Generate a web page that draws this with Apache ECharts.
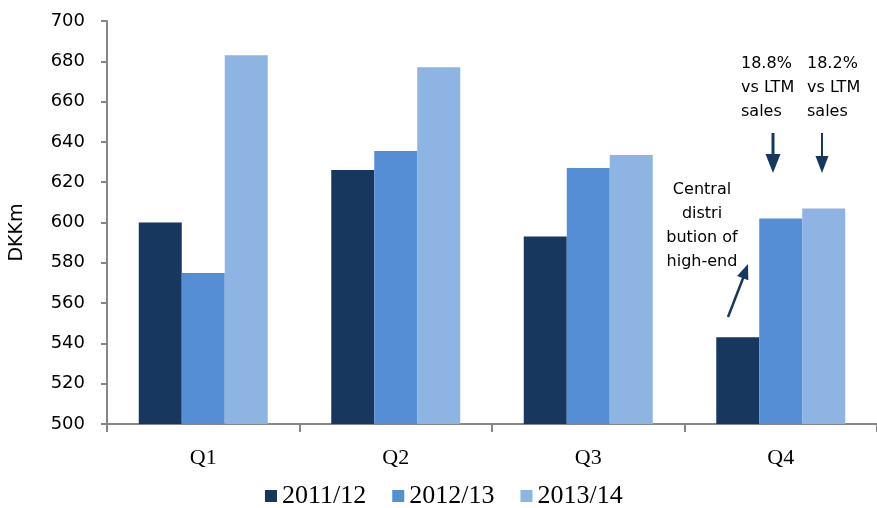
<!DOCTYPE html>
<html>
<head>
<meta charset="utf-8">
<script src="https://cdn.jsdelivr.net/npm/echarts@6/dist/echarts.min.js"></script>
<style>
html,body{margin:0;padding:0;background:#fff;}
#chart{width:877px;height:508px;}
</style>
</head>
<body>
<div id="chart"></div>
<script>
const categories = ['Q1', 'Q2', 'Q3', 'Q4'];
const seriesNames = ['2011/12', '2012/13', '2013/14'];
const values2011 = [600, 626, 593, 543];
const values2012 = [575, 635.5, 627, 602];
const values2013 = [683, 677, 633.5, 607];
const yTicks = [500, 520, 540, 560, 580, 600, 620, 640, 660, 680, 700];

const colors = ['#17375E', '#558ED5', '#8EB4E3'];
const axisColor = '#868686';
const navy = '#17375E';
const sans = 'DejaVu Sans';
const serif = 'Liberation Serif';

const chart = echarts.init(document.getElementById('chart'));

const dataSets = [values2011, values2012, values2013];

function arrowHead(tip, from, len, half) {
  const dx = tip[0] - from[0], dy = tip[1] - from[1];
  const L = Math.sqrt(dx * dx + dy * dy);
  const ux = dx / L, uy = dy / L;
  const bx = tip[0] - ux * len, by = tip[1] - uy * len;
  const px = -uy * half, py = ux * half;
  return [[tip[0], tip[1]], [bx + px, by + py], [bx - px, by - py]];
}

const textStyleAnn = { fontFamily: sans, fontSize: 16, fill: '#000', lineHeight: 24 };

chart.setOption({
  animation: false,
  backgroundColor: '#fff',
  color: colors,
  grid: { left: 103, right: 0, top: 21, bottom: 84, containLabel: false },
  legend: {
    left: 265, top: 483, padding: 0,
    itemWidth: 12, itemHeight: 12, itemGap: 26,
    icon: 'rect',
    data: seriesNames,
    textStyle: { fontFamily: serif, fontSize: 26, color: '#000' }
  },
  xAxis: {
    type: 'category',
    data: categories,
    boundaryGap: true,
    axisLine: { lineStyle: { color: axisColor, width: 2 } },
    axisTick: { show: true, length: 8, lineStyle: { color: axisColor, width: 2 } },
    axisLabel: { fontFamily: serif, fontSize: 22, color: '#000', margin: 23 }
  },
  yAxis: {
    type: 'value',
    min: yTicks[0], max: yTicks[yTicks.length - 1], interval: 20,
    name: 'DKKm',
    nameLocation: 'middle',
    nameGap: 80,
    nameTextStyle: { fontFamily: sans, fontSize: 19, color: '#000', padding: [0, 20, 0, 0] },
    axisLine: { show: true, lineStyle: { color: axisColor, width: 2 } },
    axisTick: { show: true, length: 6, lineStyle: { color: axisColor, width: 2 } },
    splitLine: { show: false },
    axisLabel: { fontFamily: sans, fontSize: 18, color: '#000', margin: 22 }
  },
  series: seriesNames.map((n, i) => ({
    name: n,
    type: 'bar',
    data: dataSets[i],
    barGap: '0%',
    barCategoryGap: '33%',
    itemStyle: { color: colors[i] }
  })),
  graphic: [
    { type: 'text', left: 741, top: 52, style: Object.assign({ text: '18.8%\nvs LTM\nsales' }, textStyleAnn) },
    { type: 'text', left: 807, top: 52, style: Object.assign({ text: '18.2%\nvs LTM\nsales' }, textStyleAnn) },
    { type: 'text', x: 702, y: 178, style: Object.assign({ text: 'Central\ndistri\nbution of\nhigh-end', align: 'center' }, textStyleAnn) },
    { type: 'line', shape: { x1: 773, y1: 133, x2: 773, y2: 157 }, style: { stroke: navy, lineWidth: 3 } },
    { type: 'polygon', shape: { points: [[765.5, 154], [780.5, 154], [773, 173]] }, style: { fill: navy } },
    { type: 'line', shape: { x1: 822, y1: 133, x2: 822, y2: 159 }, style: { stroke: navy, lineWidth: 2 } },
    { type: 'polygon', shape: { points: [[815.5, 156], [828.5, 156], [822, 173]] }, style: { fill: navy } },
    { type: 'line', shape: { x1: 728, y1: 317, x2: 743.5, y2: 277 }, style: { stroke: navy, lineWidth: 2.5 } },
    { type: 'polygon', shape: { points: arrowHead([748, 264], [728, 317], 15, 6) }, style: { fill: navy } }
  ]
});
</script>
</body>
</html>
